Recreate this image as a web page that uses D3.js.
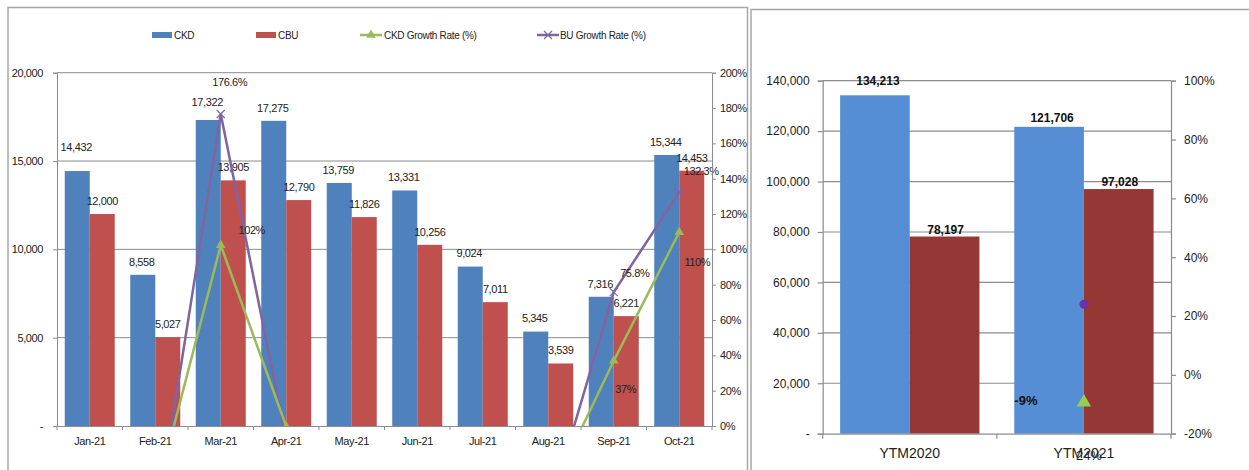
<!DOCTYPE html>
<html>
<head>
<meta charset="utf-8">
<script src="https://cdn.jsdelivr.net/npm/d3@7"></script>
<style>
  body { margin: 0; background: #fff; }
  svg { display: block; }
  .narrow { font-family: "Liberation Sans", Arial, sans-serif; letter-spacing: -0.4px; }
  .wide { font-family: "Liberation Sans", Arial, sans-serif; }
</style>
</head>
<body>
<div id="chart"></div>
<script>
// monthly chart
const months = ["Jan-21", "Feb-21", "Mar-21", "Apr-21", "May-21", "Jun-21", "Jul-21", "Aug-21", "Sep-21", "Oct-21"];
const ckd = [14432, 8558, 17322, 17275, 13759, 13331, 9024, 5345, 7316, 15344];
const cbu = [12000, 5027, 13905, 12790, 11826, 10256, 7011, 3539, 6221, 14453];
const ckdGrowth = [null, -0.407, 1.024, -0.003, -0.204, -0.031, -0.323, -0.408, 0.369, 1.097];
const buGrowth = [null, -0.581, 1.766, -0.080, -0.075, -0.133, -0.316, -0.495, 0.758, 1.323];
const leftTicks = [0, 5000, 10000, 15000, 20000];
const pctTicks = [0, 0.2, 0.4, 0.6, 0.8, 1.0, 1.2, 1.4, 1.6, 1.8, 2.0];

// year-to-month chart
const periods = ["YTM2020", "YTM2021"];
const ytmCkd = [134213, 121706];
const ytmCbu = [78197, 97028];
const ytmCkdGrowth = -0.093;
const ytmCbuGrowth = 0.24;
const ytmTicks = [0, 20000, 40000, 60000, 80000, 100000, 120000, 140000];
const ytmPctTicks = [-0.2, 0, 0.2, 0.4, 0.6, 0.8, 1.0];

const W = 1249, H = 470;
const gridColor = "#8c8c8c";
const pct0 = v => d3.format(".0%")(v).replace("−", "-");

const svg = d3.select("#chart").append("svg")
    .attr("width", W)
    .attr("height", H);

// frames
svg.append("path")
    .attr("d", "M8,480V7.5H747.5V480")
    .attr("fill", "none").attr("stroke", "#a6a6a6").attr("stroke-width", 1.5);
svg.append("path")
    .attr("d", "M751,480V9.5H1260")
    .attr("fill", "none").attr("stroke", "#a6a6a6").attr("stroke-width", 1.5);

// ---------------- left chart ----------------
const L = { x0: 57, x1: 712, top: 72.7, bottom: 426 };
const left = svg.append("g").attr("class", "narrow");

const xL = d3.scaleBand().domain(months).range([L.x0, L.x1])
    .paddingInner(0.2366).paddingOuter(0.1183);
const xSubL = d3.scaleBand().domain(["CKD", "CBU"]).range([0, xL.bandwidth()]);
const yL = d3.scaleLinear().domain([0, 20000]).range([L.bottom, L.top]);
const yPctL = d3.scaleLinear().domain([0, 2]).range([L.bottom, L.top]);

left.append("g").selectAll("line")
    .data(leftTicks.filter(d => d > 0))
    .join("line")
    .attr("x1", L.x0).attr("x2", L.x1)
    .attr("y1", d => yL(d)).attr("y2", d => yL(d))
    .attr("stroke", gridColor).attr("stroke-width", 1);

const monthRows = months.map((m, i) => ({ m, ckd: ckd[i], cbu: cbu[i] }));

left.append("g").selectAll("rect")
    .data(monthRows)
    .join("rect")
    .attr("x", d => xL(d.m) + xSubL("CKD"))
    .attr("y", d => yL(d.ckd))
    .attr("width", xSubL.bandwidth())
    .attr("height", d => L.bottom - yL(d.ckd))
    .attr("fill", "#4F81BD");

left.append("g").selectAll("rect")
    .data(monthRows)
    .join("rect")
    .attr("x", d => xL(d.m) + xSubL("CBU"))
    .attr("y", d => yL(d.cbu))
    .attr("width", xSubL.bandwidth())
    .attr("height", d => L.bottom - yL(d.cbu))
    .attr("fill", "#C0504D");

// bar value labels (a couple were moved by hand in the original)
const ckdLift = { "Jan-21": 11, "Mar-21": 5 };
left.append("g").selectAll("text")
    .data(monthRows)
    .join("text")
    .attr("x", d => xL(d.m) + xSubL("CKD") + xSubL.bandwidth() / 2 - 1)
    .attr("y", d => yL(d.ckd) - 13 - (ckdLift[d.m] || 0))
    .attr("dy", "0.35em")
    .attr("text-anchor", "middle")
    .attr("font-size", 11)
    .attr("fill", "#222")
    .text(d => d3.format(",")(d.ckd));

left.append("g").selectAll("text")
    .data(monthRows)
    .join("text")
    .attr("x", d => xL(d.m) + xSubL("CBU") + xSubL.bandwidth() / 2)
    .attr("y", d => yL(d.cbu) - 13)
    .attr("dy", "0.35em")
    .attr("text-anchor", "middle")
    .attr("font-size", 11)
    .attr("fill", "#222")
    .text(d => d3.format(",")(d.cbu));

// growth lines, clipped at the plot edges
svg.append("clipPath").attr("id", "clipL")
    .append("rect")
    .attr("x", L.x0).attr("y", L.top)
    .attr("width", L.x1 - L.x0).attr("height", L.bottom - L.top);

const cx = m => xL(m) + xL.bandwidth() / 2;
const growthLine = d3.line()
    .defined(d => d.v != null)
    .x(d => cx(d.m))
    .y(d => yPctL(d.v));

const ckdPts = months.map((m, i) => ({ m, v: ckdGrowth[i] }));
const buPts = months.map((m, i) => ({ m, v: buGrowth[i] }));

const lines = left.append("g").attr("clip-path", "url(#clipL)");
lines.append("path")
    .datum(buPts)
    .attr("d", growthLine)
    .attr("fill", "none").attr("stroke", "#8064A2").attr("stroke-width", 2.5);
lines.append("path")
    .datum(ckdPts)
    .attr("d", growthLine)
    .attr("fill", "none").attr("stroke", "#9BBB59").attr("stroke-width", 2.5);

const tri = d3.symbol().type(d3.symbolTriangle).size(40);
lines.selectAll(".ckdMark")
    .data(ckdPts.filter(d => d.v != null))
    .join("path")
    .attr("class", "ckdMark")
    .attr("transform", d => `translate(${cx(d.m)},${yPctL(d.v)})`)
    .attr("d", tri)
    .attr("fill", "#9BBB59");

lines.selectAll(".buMark")
    .data(buPts.filter(d => d.v != null))
    .join("path")
    .attr("class", "buMark")
    .attr("transform", d => `translate(${cx(d.m)},${yPctL(d.v)})`)
    .attr("d", "M-4,-4L4,4M-4,4L4,-4")
    .attr("stroke", "#8064A2").attr("stroke-width", 1.2);

// growth labels, placed like the original
const buLabelPos = { "Mar-21": [9, -32], "Sep-21": [21, -19], "Oct-21": [22, -21] };
const ckdLabelPos = { "Mar-21": [31, -15], "Sep-21": [12, 28], "Oct-21": [18, 30] };

left.append("g").selectAll("text")
    .data(buPts.filter(d => d.v != null && d.v >= 0))
    .join("text")
    .attr("x", d => cx(d.m) + buLabelPos[d.m][0])
    .attr("y", d => yPctL(d.v) + buLabelPos[d.m][1])
    .attr("dy", "0.35em")
    .attr("text-anchor", "middle")
    .attr("font-size", 11)
    .attr("fill", "#222")
    .text(d => d3.format(".1%")(d.v));

left.append("g").selectAll("text")
    .data(ckdPts.filter(d => d.v != null && d.v >= 0))
    .join("text")
    .attr("x", d => cx(d.m) + ckdLabelPos[d.m][0])
    .attr("y", d => yPctL(d.v) + ckdLabelPos[d.m][1])
    .attr("dy", "0.35em")
    .attr("text-anchor", "middle")
    .attr("font-size", 11)
    .attr("fill", "#222")
    .text(d => pct0(d.v));

// axes
const axisLeftL = left.append("g")
    .attr("transform", `translate(${L.x0},0)`)
    .call(d3.axisLeft(yL).tickValues(leftTicks).tickSize(4).tickPadding(10)
        .tickFormat(d => d === 0 ? "-" : d3.format(",")(d)));

const axisRightL = left.append("g")
    .attr("transform", `translate(${L.x1},0)`)
    .call(d3.axisRight(yPctL).tickValues(pctTicks).tickSize(4).tickPadding(4)
        .tickFormat(d3.format(".0%")));

const axisBottomL = left.append("g")
    .attr("transform", `translate(0,${L.bottom})`)
    .call(d3.axisBottom(xL).tickSize(0).tickPadding(11).tickSizeOuter(0));

const boundaries = months.map(m => xL(m) - xL.step() * xL.paddingInner() / 2).concat([L.x1]);
left.append("g").selectAll("line")
    .data(boundaries)
    .join("line")
    .attr("x1", d => d).attr("x2", d => d)
    .attr("y1", L.bottom).attr("y2", L.bottom + 4)
    .attr("stroke", gridColor);

[axisLeftL, axisRightL, axisBottomL].forEach(a => {
    a.selectAll("path.domain").attr("stroke", gridColor);
    a.selectAll(".tick line").attr("stroke", gridColor);
    a.selectAll("text").attr("font-size", 11).attr("fill", "#222")
        .attr("font-family", "'Liberation Sans', Arial, sans-serif");
});

// legend
const legend = left.append("g").attr("font-size", 10).attr("fill", "#222")
    .style("letter-spacing", "-0.3px");
const legendY = 35;
legend.append("rect").attr("x", 152).attr("y", legendY - 3).attr("width", 20).attr("height", 6).attr("fill", "#4F81BD");
legend.append("text").attr("x", 174).attr("y", legendY).attr("dy", "0.35em").text("CKD");
legend.append("rect").attr("x", 256).attr("y", legendY - 3).attr("width", 20).attr("height", 6).attr("fill", "#C0504D");
legend.append("text").attr("x", 278).attr("y", legendY).attr("dy", "0.35em").text("CBU");
legend.append("line").attr("x1", 360).attr("x2", 382).attr("y1", legendY).attr("y2", legendY)
    .attr("stroke", "#9BBB59").attr("stroke-width", 2.5);
legend.append("path").attr("transform", `translate(371,${legendY})`).attr("d", tri).attr("fill", "#9BBB59");
legend.append("text").attr("x", 384).attr("y", legendY).attr("dy", "0.35em").text("CKD Growth Rate (%)");
legend.append("line").attr("x1", 537).attr("x2", 559).attr("y1", legendY).attr("y2", legendY)
    .attr("stroke", "#8064A2").attr("stroke-width", 2.5);
legend.append("path").attr("transform", `translate(548,${legendY})`)
    .attr("d", "M-4,-4L4,4M-4,4L4,-4").attr("stroke", "#8064A2").attr("stroke-width", 1.2);
legend.append("text").attr("x", 560).attr("y", legendY).attr("dy", "0.35em").text("BU Growth Rate (%)");

// ---------------- right chart ----------------
const R = { x0: 822.7, x1: 1171, top: 80.7, bottom: 433.7 };
const right = svg.append("g").attr("class", "wide");

const xR = d3.scaleBand().domain(periods).range([R.x0, R.x1])
    .paddingInner(0.2).paddingOuter(0.1);
const xSubR = d3.scaleBand().domain(["CKD", "CBU"]).range([0, xR.bandwidth()]);
const yR = d3.scaleLinear().domain([0, 140000]).range([R.bottom, R.top]);
const yPctR = d3.scaleLinear().domain([-0.2, 1.0]).range([R.bottom, R.top]);

right.append("g").selectAll("line")
    .data(ytmTicks.filter(d => d > 0))
    .join("line")
    .attr("x1", R.x0).attr("x2", R.x1)
    .attr("y1", d => yR(d)).attr("y2", d => yR(d))
    .attr("stroke", gridColor).attr("stroke-width", 1.2);

const ytmRows = periods.map((p, i) => ({ p, ckd: ytmCkd[i], cbu: ytmCbu[i] }));

right.append("g").selectAll("rect")
    .data(ytmRows)
    .join("rect")
    .attr("x", d => xR(d.p) + xSubR("CKD"))
    .attr("y", d => yR(d.ckd))
    .attr("width", xSubR.bandwidth())
    .attr("height", d => R.bottom - yR(d.ckd))
    .attr("fill", "#558ED5");

right.append("g").selectAll("rect")
    .data(ytmRows)
    .join("rect")
    .attr("x", d => xR(d.p) + xSubR("CBU"))
    .attr("y", d => yR(d.cbu))
    .attr("width", xSubR.bandwidth())
    .attr("height", d => R.bottom - yR(d.cbu))
    .attr("fill", "#953735");

const ytmLift = { "YTM2020": 5 };
right.append("g").selectAll("text")
    .data(ytmRows)
    .join("text")
    .attr("x", d => xR(d.p) + xSubR("CKD") + xSubR.bandwidth() / 2 + 3)
    .attr("y", d => yR(d.ckd) - 9 - (ytmLift[d.p] || 0))
    .attr("dy", "0.35em")
    .attr("text-anchor", "middle")
    .attr("font-size", 12).attr("font-weight", "bold").attr("fill", "#111")
    .text(d => d3.format(",")(d.ckd));

right.append("g").selectAll("text")
    .data(ytmRows)
    .join("text")
    .attr("x", d => xR(d.p) + xSubR("CBU") + xSubR.bandwidth() / 2 + 1)
    .attr("y", d => yR(d.cbu) - 7)
    .attr("dy", "0.35em")
    .attr("text-anchor", "middle")
    .attr("font-size", 12).attr("font-weight", "bold").attr("fill", "#111")
    .text(d => d3.format(",")(d.cbu));

const axisLeftR = right.append("g")
    .attr("transform", `translate(${R.x0},0)`)
    .call(d3.axisLeft(yR).tickValues(ytmTicks).tickSize(5).tickPadding(8)
        .tickFormat(d => d === 0 ? "-" : d3.format(",")(d)));

const axisRightR = right.append("g")
    .attr("transform", `translate(${R.x1},0)`)
    .call(d3.axisRight(yPctR).tickValues(ytmPctTicks).tickSize(5).tickPadding(8)
        .tickFormat(pct0));

const axisBottomR = right.append("g")
    .attr("transform", `translate(0,${R.bottom})`)
    .call(d3.axisBottom(xR).tickSize(0).tickPadding(14).tickSizeOuter(0));

right.append("g").selectAll("line")
    .data([R.x0, (R.x0 + R.x1) / 2, R.x1])
    .join("line")
    .attr("x1", d => d).attr("x2", d => d)
    .attr("y1", R.bottom).attr("y2", R.bottom + 5)
    .attr("stroke", gridColor).attr("stroke-width", 1.2);

[axisLeftR, axisRightR, axisBottomR].forEach(a => {
    a.selectAll("path.domain").attr("stroke", gridColor).attr("stroke-width", 1.2);
    a.selectAll(".tick line").attr("stroke", gridColor).attr("stroke-width", 1.2);
    a.selectAll("text").attr("font-size", 12).attr("fill", "#222")
        .attr("font-family", "'Liberation Sans', Arial, sans-serif");
});
axisBottomR.selectAll("text").attr("font-size", 14);

// growth points for YTM2021
const gx = xR("YTM2021") + xR.bandwidth() / 2;
right.append("circle")
    .attr("cx", gx).attr("cy", yPctR(ytmCbuGrowth)).attr("r", 4.5)
    .attr("fill", "#7030A0");
right.append("path")
    .attr("transform", `translate(${gx},${yPctR(ytmCkdGrowth)})`)
    .attr("d", d3.symbol().type(d3.symbolTriangle).size(90))
    .attr("fill", "#92D050");

right.append("text")
    .attr("x", gx - 58).attr("y", yPctR(ytmCkdGrowth) - 2).attr("dy", "0.35em")
    .attr("text-anchor", "middle")
    .attr("font-size", 13).attr("font-weight", "bold").attr("fill", "#111")
    .text(pct0(ytmCkdGrowth));
right.append("text")
    .attr("x", gx + 5).attr("y", 455.7).attr("dy", "0.35em")
    .attr("text-anchor", "middle")
    .attr("font-size", 13).attr("fill", "#222")
    .text(pct0(ytmCbuGrowth));
</script>
</body>
</html>
